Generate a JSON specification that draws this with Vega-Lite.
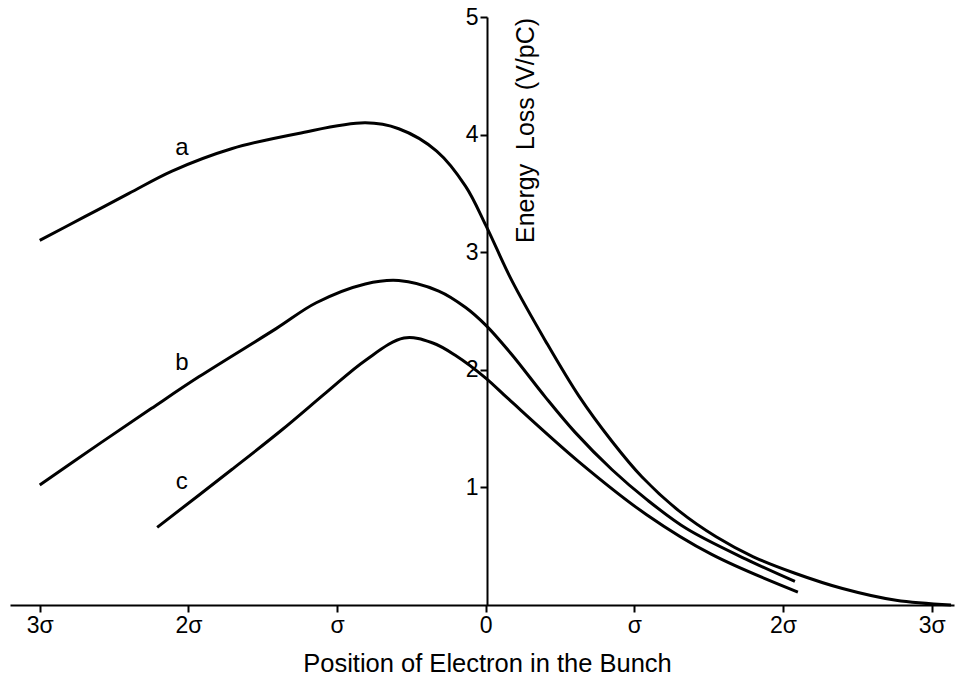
{
  "$schema": "https://vega.github.io/schema/vega-lite/v6.json",
  "width": 944,
  "height": 588,
  "autosize": "none",
  "padding": {"left": 10, "top": 17, "right": 2, "bottom": 80},
  "background": "white",
  "config": {
    "view": {"stroke": null},
    "font": "Liberation Sans",
    "axis": {
      "domainColor": "black", "tickColor": "black", "labelColor": "black", "titleColor": "black",
      "domainWidth": 2, "tickWidth": 2, "grid": false, "labelFont": "Liberation Sans", "titleFont": "Liberation Sans",
      "titleFontWeight": "normal"
    }
  },
  "datasets": {
    "curves": [
      {"curve": "a", "x": -3.0, "y": 3.10},
      {"curve": "a", "x": -2.7, "y": 3.30},
      {"curve": "a", "x": -2.4, "y": 3.50},
      {"curve": "a", "x": -2.11, "y": 3.69},
      {"curve": "a", "x": -1.71, "y": 3.88},
      {"curve": "a", "x": -1.26, "y": 4.01},
      {"curve": "a", "x": -0.81, "y": 4.10},
      {"curve": "a", "x": -0.585, "y": 4.05},
      {"curve": "a", "x": -0.33, "y": 3.86},
      {"curve": "a", "x": -0.135, "y": 3.56},
      {"curve": "a", "x": 0.0, "y": 3.23},
      {"curve": "a", "x": 0.175, "y": 2.76},
      {"curve": "a", "x": 0.4, "y": 2.25},
      {"curve": "a", "x": 0.625, "y": 1.78},
      {"curve": "a", "x": 0.85, "y": 1.39},
      {"curve": "a", "x": 1.05, "y": 1.09},
      {"curve": "a", "x": 1.3, "y": 0.80},
      {"curve": "a", "x": 1.55, "y": 0.58},
      {"curve": "a", "x": 1.8, "y": 0.41},
      {"curve": "a", "x": 2.08, "y": 0.27},
      {"curve": "a", "x": 2.4, "y": 0.14},
      {"curve": "a", "x": 2.76, "y": 0.04},
      {"curve": "a", "x": 3.13, "y": 0.0},
      {"curve": "b", "x": -3.0, "y": 1.02},
      {"curve": "b", "x": -2.6, "y": 1.37},
      {"curve": "b", "x": -2.25, "y": 1.67},
      {"curve": "b", "x": -1.93, "y": 1.94},
      {"curve": "b", "x": -1.41, "y": 2.35},
      {"curve": "b", "x": -1.14, "y": 2.57},
      {"curve": "b", "x": -0.81, "y": 2.73},
      {"curve": "b", "x": -0.585, "y": 2.76},
      {"curve": "b", "x": -0.316, "y": 2.67},
      {"curve": "b", "x": -0.135, "y": 2.53},
      {"curve": "b", "x": 0.0, "y": 2.38},
      {"curve": "b", "x": 0.175, "y": 2.13},
      {"curve": "b", "x": 0.4, "y": 1.77},
      {"curve": "b", "x": 0.6, "y": 1.47},
      {"curve": "b", "x": 0.85, "y": 1.15},
      {"curve": "b", "x": 1.08, "y": 0.90},
      {"curve": "b", "x": 1.35, "y": 0.65},
      {"curve": "b", "x": 1.75, "y": 0.39},
      {"curve": "b", "x": 2.08, "y": 0.20},
      {"curve": "c", "x": -2.21, "y": 0.66},
      {"curve": "c", "x": -1.71, "y": 1.15},
      {"curve": "c", "x": -1.37, "y": 1.49},
      {"curve": "c", "x": -1.07, "y": 1.81},
      {"curve": "c", "x": -0.81, "y": 2.08},
      {"curve": "c", "x": -0.55, "y": 2.27},
      {"curve": "c", "x": -0.36, "y": 2.23},
      {"curve": "c", "x": -0.2, "y": 2.12},
      {"curve": "c", "x": 0.0, "y": 1.93},
      {"curve": "c", "x": 0.155, "y": 1.75},
      {"curve": "c", "x": 0.625, "y": 1.22},
      {"curve": "c", "x": 1.08, "y": 0.77},
      {"curve": "c", "x": 1.52, "y": 0.43},
      {"curve": "c", "x": 2.1, "y": 0.11}
    ],
    "labels": [
      {"curve": "a", "x": -2.044, "y": 3.886},
      {"curve": "b", "x": -2.044, "y": 2.058},
      {"curve": "c", "x": -2.044, "y": 1.046}
    ]
  },
  "layer": [
    {
      "data": {"name": "curves"},
      "mark": {"type": "line", "interpolate": "catmull-rom", "color": "black", "strokeWidth": 3},
      "encoding": {
        "x": {
          "field": "x", "type": "quantitative",
          "scale": {"domain": [-3.2, 3.15], "nice": false, "zero": false},
          "axis": {
            "values": [-3, -2, -1, 0, 1, 2, 3],
            "labelExpr": "datum.value == 0 ? '0' : (abs(datum.value) == 1 ? 'σ' : abs(datum.value) + 'σ')",
            "labelFontSize": 23, "tickSize": 7, "labelPadding": 2,
            "title": "Position of Electron in the Bunch",
            "titleFontSize": 25.5, "titlePadding": 14, "titleX": 477
          }
        },
        "y": {
          "field": "y", "type": "quantitative",
          "scale": {"domain": [0, 5], "nice": false},
          "axis": {
            "offset": -477,
            "values": [1, 2, 3, 4, 5],
            "format": "d",
            "labelFontSize": 23, "tickSize": 7, "labelPadding": 2,
            "title": "Energy\u00a0\u00a0Loss (V/pC)",
            "titleFontSize": 25, "titleX": 38, "titleY": 113,
            "titleAngle": -90, "titleAlign": "center", "titleBaseline": "middle"
          }
        },
        "detail": {"field": "curve"}
      }
    },
    {
      "data": {"name": "labels"},
      "mark": {"type": "text", "fontSize": 24, "color": "black", "font": "Liberation Sans"},
      "encoding": {
        "x": {"field": "x", "type": "quantitative"},
        "y": {"field": "y", "type": "quantitative"},
        "text": {"field": "curve"}
      }
    }
  ]
}
